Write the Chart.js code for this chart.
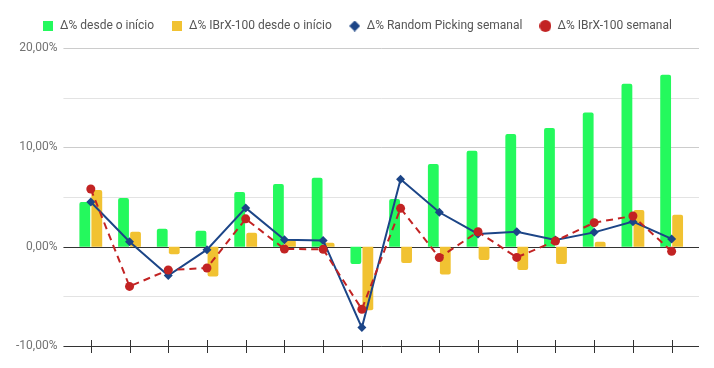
<!DOCTYPE html>
<html>
<head>
<meta charset="utf-8">
<script src="https://cdn.jsdelivr.net/npm/chart.js@4"></script>
<style>
  html, body { margin: 0; padding: 0; background: #fff; }
  #wrap { width: 714px; height: 368px; }
</style>
</head>
<body>
<div id="wrap"><canvas id="weekly-chart"></canvas></div>
<script>
  // weeks (not labelled on the axis)
  const weeks = ['S1','S2','S3','S4','S5','S6','S7','S8','S9','S10','S11','S12','S13','S14','S15','S16'];
  // cumulative % change since start
  const sinceStart = [4.5, 4.9, 1.8, 1.6, 5.5, 6.3, 6.95, -1.75, 4.8, 8.33, 9.65, 11.35, 11.95, 13.5, 16.4, 17.3];
  const ibrxSinceStart = [5.7, 1.5, -0.77, -3.0, 1.4, 0.7, 0.4, -6.4, -1.65, -2.8, -1.34, -2.35, -1.75, 0.5, 3.7, 3.22];
  // weekly % change
  const randomWeekly = [4.5, 0.5, -2.9, -0.3, 3.9, 0.7, 0.63, -8.15, 6.78, 3.46, 1.28, 1.5, 0.67, 1.44, 2.52, 0.78];
  const ibrxWeekly = [5.8, -4.0, -2.35, -2.15, 2.8, -0.23, -0.27, -6.3, 3.86, -1.1, 1.5, -1.08, 0.57, 2.42, 3.09, -0.47];

  const fmtPct = v => v.toFixed(2).replace('.', ',') + '%';

  // small legend icons, sized like the sheet's legend
  function makeIcon(shape, color, size) {
    const c = document.createElement('canvas');
    c.width = size;
    c.height = size;
    const g = c.getContext('2d');
    g.fillStyle = color;
    const h = size / 2;
    if (shape === 'square') {
      g.fillRect(0, 0, size, size);
    } else if (shape === 'diamond') {
      g.beginPath();
      g.moveTo(h, 0);
      g.lineTo(size, h);
      g.lineTo(h, size);
      g.lineTo(0, h);
      g.closePath();
      g.fill();
    } else {
      g.beginPath();
      g.arc(h, h, h, 0, Math.PI * 2);
      g.fill();
    }
    return c;
  }
  const legendIcons = [
    makeIcon('square', '#24f95d', 10),
    makeIcon('square', '#f1c232', 10),
    makeIcon('diamond', '#1c4587', 11),
    makeIcon('circle', '#c22323', 12)
  ];

  // grid lines wider than the category band, and cross ticks on the bottom axis
  const gridPlugin = {
    id: 'sheetGrid',
    beforeUpdate(chart) {
      // a bit more room under the legend
      const lg = chart.legend;
      if (lg && !lg._extraGap) {
        const fit = lg.fit;
        lg.fit = function() {
          fit.call(this);
          this.height += 6;
        };
        lg._extraGap = true;
      }
    },
    afterLayout(chart) {
      // center the legend on the whole canvas, not on the padded area
      if (chart.legend) {
        chart.legend.left = 0;
        chart.legend.right = chart.width;
      }
    },
    beforeDatasetsDraw(chart) {
      const {ctx, chartArea, scales: {y}} = chart;
      ctx.save();
      y.ticks.forEach(t => {
        const py = Math.round(y.getPixelForValue(t.value)) + 0.5;
        let c = '#e3e3e3';
        if (t.value % 10 === 0) c = '#cccccc';
        if (t.value === 0 || t.value === y.min) c = '#333333';
        ctx.strokeStyle = c;
        ctx.lineWidth = 1;
        ctx.beginPath();
        ctx.moveTo(chartArea.left - 8, py);
        ctx.lineTo(chartArea.right + 8, py);
        ctx.stroke();
      });
      ctx.restore();
    },
    afterDraw(chart) {
      const {ctx, chartArea, scales: {x}} = chart;
      ctx.save();
      ctx.strokeStyle = '#333333';
      ctx.lineWidth = 1;
      x.ticks.forEach((t, i) => {
        const px = Math.round(x.getPixelForTick(i)) + 0.5;
        ctx.beginPath();
        ctx.moveTo(px, chartArea.bottom - 6);
        ctx.lineTo(px, chartArea.bottom + 7);
        ctx.stroke();
      });
      ctx.restore();
    }
  };

  const el = document.getElementById('weekly-chart');
  const weeklyChart = new Chart(el, {
    type: 'bar',
    data: {
      labels: weeks,
      datasets: [{
        label: 'Δ% desde o início',
        data: sinceStart,
        backgroundColor: '#24f95d',
        borderRadius: 2,
        categoryPercentage: 0.62,
        barPercentage: 0.9,
        order: 3
      },{
        label: 'Δ% IBrX-100 desde o início',
        data: ibrxSinceStart,
        backgroundColor: '#f1c232',
        borderRadius: 2,
        categoryPercentage: 0.62,
        barPercentage: 0.9,
        order: 3
      },{
        type: 'line',
        label: 'Δ% Random Picking semanal',
        data: randomWeekly,
        borderColor: '#1c4587',
        backgroundColor: '#1c4587',
        borderWidth: 2,
        pointStyle: 'rectRot',
        pointRadius: 4.5,
        pointBorderWidth: 0,
        tension: 0,
        order: 2
      },{
        type: 'line',
        label: 'Δ% IBrX-100 semanal',
        data: ibrxWeekly,
        borderColor: '#c22323',
        backgroundColor: '#c22323',
        borderWidth: 2,
        borderDash: [7, 5],
        pointStyle: 'circle',
        pointRadius: 4.5,
        pointBorderWidth: 0,
        tension: 0,
        order: 1
      }]
    },
    options: {
      responsive: true,
      maintainAspectRatio: false,
      animation: false,
      layout: {
        padding: { left: 10, right: 23, top: 3, bottom: 22 }
      },
      plugins: {
        legend: {
          position: 'top',
          labels: {
            usePointStyle: true,
            boxWidth: 12,
            boxHeight: 10,
            padding: 17,
            color: '#555555',
            font: { family: 'Roboto', size: 12 },
            sort: (a, b) => a.datasetIndex - b.datasetIndex,
            generateLabels(chart) {
              const items = Chart.defaults.plugins.legend.labels.generateLabels(chart);
              items.forEach(it => {
                it.pointStyle = legendIcons[it.datasetIndex];
                it.lineDash = [];
                it.lineWidth = 0;
              });
              return items;
            }
          }
        },
        tooltip: { enabled: false }
      },
      scales: {
        x: {
          display: false
        },
        y: {
          min: -10,
          max: 20,
          grid: { display: false },
          border: { display: false },
          ticks: {
            stepSize: 5,
            padding: 6,
            color: '#737373',
            font: { family: 'Roboto', size: 12 },
            callback: v => (v % 10 === 0 ? fmtPct(v) : '')
          }
        }
      }
    },
    plugins: [gridPlugin]
  });
</script>
</body>
</html>
